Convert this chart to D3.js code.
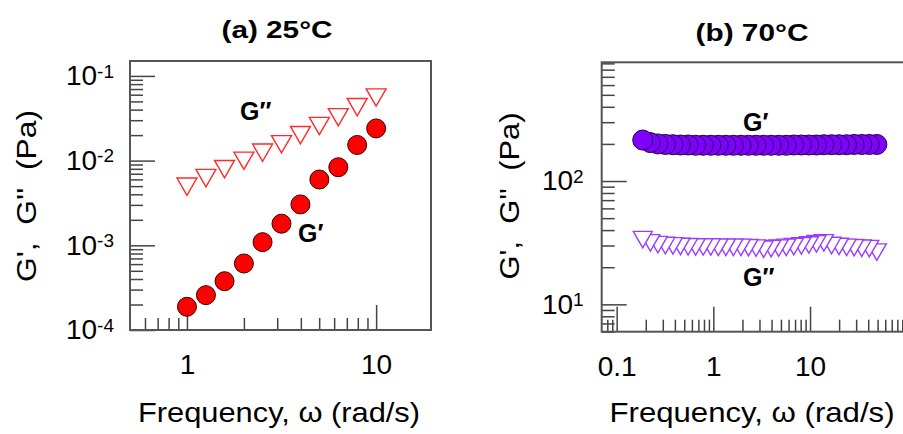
<!DOCTYPE html>
<html>
<head>
<meta charset="utf-8">
<script src="https://cdn.jsdelivr.net/npm/d3@7"></script>
<style>
  body { margin: 0; background: #fff; }
  text { font-family: "Liberation Sans", Arial, sans-serif; }
</style>
</head>
<body>
<div id="chart"></div>
<script>
// ---- data ----
// (a) 25 C
var freqA = [1, 1.26, 1.58, 2, 2.51, 3.16, 3.98, 5.01, 6.31, 7.94, 10];
var gPrimeA = [1.88e-4, 2.58e-4, 3.77e-4, 6.1e-4, 1.09e-3, 1.8e-3, 3.04e-3, 5.98e-3, 8.35e-3, 1.53e-2, 2.4e-2];
var gDoubleA = [4.92e-3, 6.22e-3, 7.94e-3, 9.95e-3, 1.24e-2, 1.56e-2, 2.0e-2, 2.56e-2, 3.25e-2, 4.28e-2, 5.56e-2];

// (b) 70 C
var freqB = [0.186, 0.223, 0.267, 0.319, 0.382, 0.457, 0.548, 0.656, 0.785, 0.94,
  1.125, 1.346, 1.611, 1.928, 2.308, 2.764, 3.31, 3.96, 4.74, 5.67,
  6.79, 8.13, 9.73, 11.65, 13.9, 16.7, 19.95, 23.9, 28.6, 34.3, 41.0, 49.1];
var gPrimeB = [215, 205, 200, 198, 197, 196, 196, 195, 195, 195,
  195, 195, 195, 195, 195, 195, 195, 195, 195, 195,
  196, 196, 196, 196, 197, 197, 197, 197, 198, 198, 198, 198];
var gDoubleB = [33.5, 31.5, 30.5, 30, 29.8, 29.5, 29.3, 29.2, 29.2, 29.2,
  29.0, 29.0, 29.0, 29.0, 28.8, 28.6, 28.0, 28.3, 28.6, 29.0,
  29.4, 29.8, 30.3, 31.0, 31.5, 30.0, 29.5, 29.0, 28.8, 28.5, 28.3, 26.5];

// tick values
var xMajorA = [1, 10];
var xMinorA = [0.6, 0.7, 0.8, 0.9, 2, 3, 4, 5, 6, 7, 8, 9];
var yMajorA = [1e-4, 1e-3, 1e-2, 1e-1];
var yMinorA = [2e-4, 3e-4, 4e-4, 5e-4, 6e-4, 7e-4, 8e-4, 9e-4,
  2e-3, 3e-3, 4e-3, 5e-3, 6e-3, 7e-3, 8e-3, 9e-3,
  2e-2, 3e-2, 4e-2, 5e-2, 6e-2, 7e-2, 8e-2, 9e-2];
var xMajorB = [0.1, 1, 10];
var xMinorB = [0.08, 0.09, 0.2, 0.3, 0.4, 0.5, 0.6, 0.7, 0.8, 0.9,
  2, 3, 4, 5, 6, 7, 8, 9, 20, 30, 40, 50, 60, 70, 80, 90];
var yMajorB = [10, 100];
var yMinorB = [6, 7, 8, 9, 20, 30, 40, 50, 60, 70, 80, 90,
  200, 300, 400, 500, 600, 700, 800, 900];

var svgWidth = 903;
var svgHeight = 434;

var svg = d3.select("#chart")
  .append("svg")
  .attr("width", svgWidth)
  .attr("height", svgHeight);

// down-pointing triangle centred on its bounding box
function triDown(s) {
  var h = s * 0.866;
  return "M" + (-s / 2) + "," + (-h / 2) + "L" + (s / 2) + "," + (-h / 2) + "L0," + (h / 2) + "Z";
}

function drawPanel(p) {
  var x = d3.scaleLog().domain(p.xDomain).range(p.xRange);
  var y = d3.scaleLog().domain(p.yDomain).range(p.yRange);
  var g = svg.append("g");

  // minor ticks (pointing inwards)
  g.append("g")
    .attr("class", "axis")
    .attr("transform", `translate(0, ${p.yRange[0]})`)
    .call(d3.axisBottom(x).tickValues(p.xMinor).tickSize(-12).tickFormat(""));
  g.append("g")
    .attr("class", "axis")
    .attr("transform", `translate(${p.xRange[0]}, 0)`)
    .call(d3.axisLeft(y).tickValues(p.yMinor).tickSize(-13).tickFormat(""));

  // major ticks with labels
  g.append("g")
    .attr("class", "axis")
    .attr("transform", `translate(0, ${p.yRange[0]})`)
    .call(d3.axisBottom(x).tickValues(p.xMajor).tickSize(-25).tickPadding(24)
      .tickFormat(d => String(d)));
  var yAx = g.append("g")
    .attr("class", "axis")
    .attr("transform", `translate(${p.xRange[0]}, 0)`)
    .call(d3.axisLeft(y).tickValues(p.yMajor).tickSize(-25).tickPadding(p.yPad)
      .tickFormat(""));

  g.selectAll(".axis path").remove();
  g.selectAll(".axis line").attr("stroke", "#444").attr("stroke-width", 1.5);
  g.selectAll(".axis text")
    .attr("font-size", "28px")
    .attr("fill", "#000")
    .attr("font-family", "Liberation Sans, Arial, sans-serif");

  // powers of ten as superscripts
  yAx.selectAll(".tick text").each(function(d) {
    var t = d3.select(this);
    t.text("10");
    t.append("tspan")
      .attr("dy", "-0.4em")
      .attr("font-size", "19px")
      .text(Math.round(Math.log10(d)));
  });

  // frame
  g.append("rect")
    .attr("x", p.xRange[0])
    .attr("y", p.yRange[1])
    .attr("width", p.xRange[1] - p.xRange[0])
    .attr("height", p.yRange[0] - p.yRange[1])
    .attr("fill", "none")
    .attr("stroke", "#555")
    .attr("stroke-width", 2);

  // G'' triangles
  var idx = d3.range(p.freq.length).reverse();
  g.selectAll(".tri")
    .data(idx)
    .enter()
    .append("path")
    .attr("class", "tri")
    .attr("d", triDown(p.triSize))
    .attr("transform", i => `translate(${x(p.freq[i])}, ${y(p.gDouble[i])})`)
    .attr("fill", "#fff")
    .attr("stroke", p.triColor)
    .attr("stroke-width", 1.4);

  // G' circles
  g.selectAll(".dot")
    .data(idx)
    .enter()
    .append("circle")
    .attr("class", "dot")
    .attr("cx", i => x(p.freq[i]))
    .attr("cy", i => y(p.gPrime[i]))
    .attr("r", p.r)
    .attr("fill", p.dotColor)
    .attr("stroke", p.dotStroke)
    .attr("stroke-width", 1);

  // title
  g.append("text")
    .attr("x", p.titleX)
    .attr("y", p.titleY)
    .attr("text-anchor", "middle")
    .attr("font-size", "24px")
    .attr("font-weight", "bold")
    .attr("textLength", p.titleLen)
    .attr("lengthAdjust", "spacingAndGlyphs")
    .text(p.title);

  // curve labels
  g.append("text")
    .attr("x", p.gpPos[0]).attr("y", p.gpPos[1])
    .attr("font-size", "25px").attr("font-weight", "bold")
    .text("G\u2032");
  g.append("text")
    .attr("x", p.gppPos[0]).attr("y", p.gppPos[1])
    .attr("font-size", "25px").attr("font-weight", "bold")
    .text("G\u2033");

  // axis labels
  g.append("text")
    .attr("transform", `translate(${p.yLabX}, 196) rotate(-90)`)
    .attr("text-anchor", "middle")
    .attr("font-size", "28px")
    .attr("textLength", p.yLabLen)
    .attr("lengthAdjust", "spacingAndGlyphs")
    .text("G',\u00a0\u00a0G''\u00a0\u00a0(Pa)");
  g.append("text")
    .attr("x", p.xLabX)
    .attr("y", 422)
    .attr("text-anchor", "middle")
    .attr("font-size", "28px")
    .attr("textLength", p.xLabLen)
    .attr("lengthAdjust", "spacingAndGlyphs")
    .text("Frequency, \u03c9 (rad/s)");
}

drawPanel({
  xDomain: [0.5, 19.5], xRange: [130, 431],
  yDomain: [1e-4, 0.15], yRange: [330, 61],
  xMajor: xMajorA, xMinor: xMinorA, yMajor: yMajorA, yMinor: yMinorA, yPad: 16,
  freq: freqA, gPrime: gPrimeA, gDouble: gDoubleA,
  r: 9.5, dotColor: "#ff0000", dotStroke: "#3a0000",
  triSize: 20, triColor: "#ff2a2a",
  title: "(a) 25°C", titleX: 277, titleY: 38, titleLen: 111,
  gpPos: [298, 242], gppPos: [240, 120],
  yLabX: 36, yLabLen: 172, xLabX: 279, xLabLen: 282
});

drawPanel({
  xDomain: [0.07, 100], xRange: [601.7, 906.7],
  yDomain: [6, 918], yRange: [331.7, 62.3],
  xMajor: xMajorB, xMinor: xMinorB, yMajor: yMajorB, yMinor: yMinorB, yPad: 18,
  freq: freqB, gPrime: gPrimeB, gDouble: gDoubleB,
  r: 10, dotColor: "#8000ff", dotStroke: "#1e0040",
  triSize: 19, triColor: "#9a3cff",
  title: "(b) 70°C", titleX: 752, titleY: 41, titleLen: 113,
  gpPos: [743, 131], gppPos: [743, 286],
  yLabX: 519, yLabLen: 167, xLabX: 752, xLabLen: 285
});
</script>
</body>
</html>
